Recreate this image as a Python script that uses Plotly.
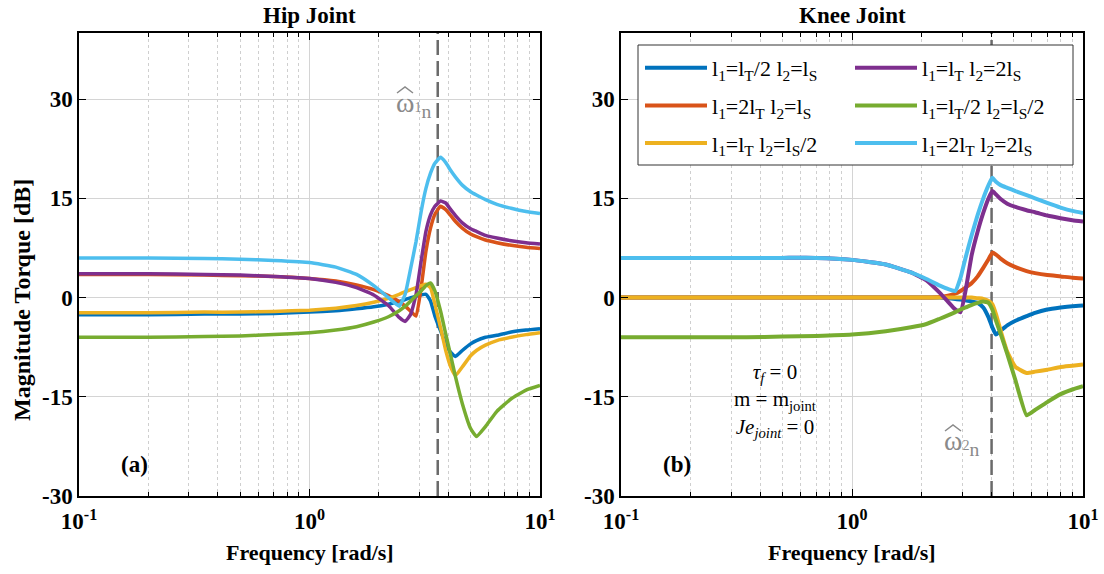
import plotly.graph_objects as go

# ---------------- data ----------------
labels = [
    "l<sub>1</sub>=l<sub>T</sub>/2 l<sub>2</sub>=l<sub>S</sub>",
    "l<sub>1</sub>=2l<sub>T</sub> l<sub>2</sub>=l<sub>S</sub>",
    "l<sub>1</sub>=l<sub>T</sub> l<sub>2</sub>=l<sub>S</sub>/2",
    "l<sub>1</sub>=l<sub>T</sub> l<sub>2</sub>=2l<sub>S</sub>",
    "l<sub>1</sub>=l<sub>T</sub>/2 l<sub>2</sub>=l<sub>S</sub>/2",
    "l<sub>1</sub>=2l<sub>T</sub> l<sub>2</sub>=2l<sub>S</sub>",
]
colors = ["#0072BD", "#D95319", "#EDB120", "#7E2F8E", "#77AC30", "#4DBEEE"]

hip_freq = [0.1, 0.2, 0.35, 0.5, 0.7, 1.0, 1.3, 1.6, 1.9, 2.2, 2.45, 2.6, 2.75, 2.9, 3.05,
            3.2, 3.35, 3.5, 3.7, 3.9, 4.1, 4.3, 4.6, 5.0, 5.3, 5.8, 6.5, 7.5, 8.7, 10]
hip_blue = [-2.6, -2.6, -2.5, -2.5, -2.4, -2.2, -2.0, -1.7, -1.4, -1.0, -0.6, -0.3, 0.0, 0.2, 0.4,
            0.5, -0.5, -2.8, -5.0, -7.0, -8.3, -8.9, -8.0, -7.0, -6.5, -6.0, -5.7, -5.2, -4.9, -4.7]
hip_orange = [3.5, 3.5, 3.4, 3.3, 3.2, 2.9, 2.5, 1.9, 1.2, 0.3, -0.6, -1.3, -2.1, -2.8, 1.5,
              7.0, 10.5, 12.6, 13.8, 13.3, 12.4, 11.5, 10.5, 9.6, 9.2, 8.7, 8.3, 7.9, 7.6, 7.4]
hip_yellow = [-2.3, -2.3, -2.2, -2.2, -2.1, -1.9, -1.6, -1.2, -0.7, -0.1, 0.5, 0.9, 1.2, 1.5, 1.8,
              2.0, 1.5, -1.0, -4.5, -8.0, -10.5, -11.8, -10.5, -8.8, -8.0, -7.2, -6.5, -6.0, -5.6, -5.3]
hip_purple = [3.6, 3.6, 3.5, 3.4, 3.2, 2.9, 2.3, 1.5, 0.4, -1.2, -3.0, -3.6, -2.5, 0.5, 5.5,
              10.0, 12.5, 13.8, 14.6, 14.3, 13.3, 12.4, 11.3, 10.4, 10.0, 9.4, 9.0, 8.6, 8.3, 8.1]
hip_green = [-6.0, -6.0, -5.9, -5.8, -5.6, -5.3, -4.9, -4.4, -3.7, -2.9, -2.0, -1.3, -0.5, 0.3, 1.0,
             1.8, 2.2, 1.0, -2.0, -5.5, -8.8, -12.0, -16.0, -19.8, -21.0, -19.5, -17.2, -15.3, -14.0, -13.3]
hip_cyan = [6.0, 6.0, 5.9, 5.8, 5.6, 5.3, 4.6, 3.5, 1.8, 0.0, -1.3, 0.5, 4.5, 8.5, 13.0,
            16.5, 18.8, 20.3, 21.2, 20.4, 19.2, 18.2, 17.0, 16.0, 15.5, 14.8, 14.1, 13.5, 13.0, 12.7]

knee_freq = [0.1, 0.2, 0.35, 0.5, 0.7, 1.0, 1.4, 1.8, 2.1, 2.4, 2.6, 2.8, 2.95, 3.1, 3.3,
             3.5, 3.7, 3.9, 4.05, 4.2, 4.4, 4.7, 5.1, 5.7, 6.2, 7.0, 8.0, 9.0, 10]
knee_blue = [0, 0, 0, 0, 0, 0, 0, 0, 0, 0, -0.1, -0.2, -0.3, -0.4, -0.6,
             -0.8, -1.5, -3.0, -4.5, -5.6, -5.0, -4.2, -3.5, -2.8, -2.3, -1.8, -1.5, -1.3, -1.2]
knee_orange = [0, 0, 0, 0, 0, 0, 0, 0, 0, 0.1, 0.3, 0.6, 1.0, 1.5, 2.2,
               3.2, 4.5, 5.8, 6.8, 6.5, 5.9, 5.2, 4.6, 4.0, 3.7, 3.4, 3.2, 3.0, 2.9]
knee_yellow = [0, 0, 0, 0, 0, 0, 0, 0, 0, 0, 0, 0, 0, 0, 0,
               -0.1, -0.2, -0.5, -1.0, -2.5, -5.0, -8.2, -10.5, -11.4, -11.2, -10.9, -10.5, -10.3, -10.1]
knee_purple = [6.0, 6.0, 6.0, 6.0, 6.0, 5.7, 5.0, 3.8, 2.6, 0.7, -0.6, -1.8, -2.2, 1.0, 6.5,
               10.0, 12.8, 15.0, 16.1, 15.6, 14.9, 14.2, 13.7, 13.2, 12.9, 12.4, 12.0, 11.7, 11.5]
knee_green = [-6.0, -6.0, -6.0, -5.9, -5.8, -5.6, -5.1, -4.5, -4.0, -3.2, -2.7, -2.2, -1.8, -1.5, -1.1,
              -0.8, -0.6, -0.8, -1.8, -3.5, -5.5, -8.5, -12.5, -17.8, -17.0, -15.8, -14.6, -13.9, -13.4]
knee_cyan = [6.0, 6.0, 6.0, 6.0, 6.0, 5.7, 5.0, 3.8, 2.8, 1.8, 1.3, 1.0, 3.0, 6.0, 9.5,
             12.5, 15.0, 17.0, 18.1, 17.5, 17.0, 16.6, 16.1, 15.5, 15.0, 14.3, 13.6, 13.1, 12.8]

omega_n = [3.6, 4.02]          # natural frequencies (dashed lines)
y_range = [-30, 40]
y_ticks = [-30, -15, 0, 15, 30]
y_ticktext = ["-30", "-15", "0", "15", "30"]
x_ticks = [0.1, 1, 10]
x_ticktext = ["10<sup>-1</sup>", "10<sup>0</sup>", "10<sup>1</sup>"]
minor_ticks = [0.2, 0.3, 0.4, 0.5, 0.6, 0.7, 0.8, 0.9, 2, 3, 4, 5, 6, 7, 8, 9]

hip_series = [hip_blue, hip_orange, hip_yellow, hip_purple, hip_green, hip_cyan]
knee_series = [knee_blue, knee_orange, knee_yellow, knee_purple, knee_green, knee_cyan]

# ---------------- figure ----------------
SERIF = "Liberation Serif"
fig = go.Figure()

# dashed natural-frequency lines
for k, (xa, ya) in enumerate([("x", "y"), ("x2", "y2")]):
    fig.add_trace(go.Scatter(x=[omega_n[k], omega_n[k]], y=y_range, mode="lines",
                             line=dict(color="#6a6a6a", width=2.5, dash="15px,6px"),
                             xaxis=xa, yaxis=ya, showlegend=False, hoverinfo="skip"))

for i in range(6):
    fig.add_trace(go.Scatter(x=hip_freq, y=hip_series[i], mode="lines", name=labels[i],
                             line=dict(color=colors[i], width=3.5, shape="spline", smoothing=0.4),
                             xaxis="x", yaxis="y", showlegend=False))
for i in range(6):
    leg = "legend" if i < 3 else "legend2"
    fig.add_trace(go.Scatter(x=knee_freq, y=knee_series[i], mode="lines", name=labels[i],
                             line=dict(color=colors[i], width=4, shape="spline", smoothing=0.4),
                             xaxis="x2", yaxis="y2", showlegend=True, legend=leg,
                             legendgroup="g%d" % i))

W, H = 1104, 574
def px(xp):
    return xp / W
def py(yp):
    return 1 - yp / H

tickfont = dict(family=SERIF, size=23, color="black", weight="bold")
xcommon = dict(type="log", range=[-1, 1], tickvals=x_ticks, ticktext=x_ticktext,
               ticks="inside", ticklen=7, tickcolor="black", tickfont=tickfont,
               showline=True, linecolor="black", linewidth=1.5, mirror="ticks",
               showgrid=True, gridcolor="#d4d4d4", gridwidth=1, zeroline=False, automargin=False,
               ticklabelstandoff=4,
               minor=dict(tickvals=minor_ticks, ticks="inside", ticklen=4, tickcolor="black",
                          showgrid=True, gridcolor="#cfcfcf", griddash="dot", gridwidth=1))
ycommon = dict(range=y_range, tickvals=y_ticks, ticktext=y_ticktext, ticks="inside", ticklen=7,
               tickcolor="black", tickfont=tickfont, showline=True, linecolor="black",
               linewidth=1.5, automargin=False, mirror="ticks", showgrid=True,
               gridcolor="#d4d4d4", gridwidth=1, zeroline=False)

ydom = [py(496), py(33)]
legfont = dict(family=SERIF, size=22, color="black")
fig.update_layout(
    width=W, height=H, margin=dict(l=0, r=0, t=0, b=0, autoexpand=False),
    paper_bgcolor="white", plot_bgcolor="white",
    xaxis=dict(domain=[px(79), px(540)], anchor="y", **xcommon),
    yaxis=dict(domain=ydom, anchor="x", **ycommon),
    xaxis2=dict(domain=[px(621), px(1083)], anchor="y2", **xcommon),
    yaxis2=dict(domain=ydom, anchor="x2", **ycommon),
    legend=dict(x=px(640), y=py(47), xanchor="left", yanchor="top", bgcolor="rgba(0,0,0,0)",
                font=legfont, tracegroupgap=6, itemwidth=62),
    legend2=dict(x=px(850), y=py(47), xanchor="left", yanchor="top", bgcolor="rgba(0,0,0,0)",
                 font=legfont, tracegroupgap=6, itemwidth=62),
    showlegend=True,
)

# legend box (opaque, MATLAB-like)
fig.add_shape(type="rect", xref="paper", yref="paper", x0=px(638), x1=px(1073),
              y0=py(165), y1=py(45), fillcolor="white", line=dict(color="#333333", width=1),
              layer="above")

# circumflex (hat) strokes over the omega symbols
for cx, cy in [(405, 90), (953, 428)]:
    fig.add_shape(type="path", xref="paper", yref="paper",
                  path="M %f,%f L %f,%f L %f,%f" % (px(cx - 8), py(cy + 3), px(cx), py(cy - 3),
                                                    px(cx + 8), py(cy + 3)),
                  line=dict(color="#8a8a8a", width=1.5), layer="above")

annots = [
    dict(x=(px(79) + px(540)) / 2, y=py(15), text="<b>Hip Joint</b>", size=23, color="black"),
    dict(x=(px(621) + px(1083)) / 2, y=py(15), text="<b>Knee Joint</b>", size=23, color="black"),
    dict(x=px(22), y=py(300), text="<b>Magnitude Torque [dB]</b>", size=24,
         color="black", angle=-90),
    dict(x=(px(79) + px(540)) / 2, y=py(552), text="<b>Frequency [rad/s]</b>", size=22, color="black"),
    dict(x=(px(621) + px(1083)) / 2, y=py(552), text="<b>Frequency [rad/s]</b>", size=22, color="black"),
    dict(x=px(134), y=py(464), text="<b>(a)</b>", size=23, color="black"),
    dict(x=px(677), y=py(464), text="<b>(b)</b>", size=23, color="black"),
    dict(x=px(413), y=py(104), text="ω<span style='font-size:14px'>1</span><sub>n</sub>", size=28, color="#8a8a8a"),
    dict(x=px(961), y=py(442), text="ω<span style='font-size:14px'>2</span><sub>n</sub>", size=28, color="#8a8a8a"),
    dict(x=px(775), y=py(400),
         text="<i>τ<sub>f</sub></i> = 0<br>m = m<sub>joint</sub><br><i>Je<sub>joint</sub></i> = 0",
         size=21, color="black"),
]
for a in annots:
    fig.add_annotation(xref="paper", yref="paper", x=a["x"], y=a["y"], text=a["text"],
                       showarrow=False, textangle=a.get("angle", 0),
                       font=dict(family=SERIF, size=a["size"], color=a["color"]),
                       xanchor="center", yanchor="middle")

fig.write_html("out.html")
